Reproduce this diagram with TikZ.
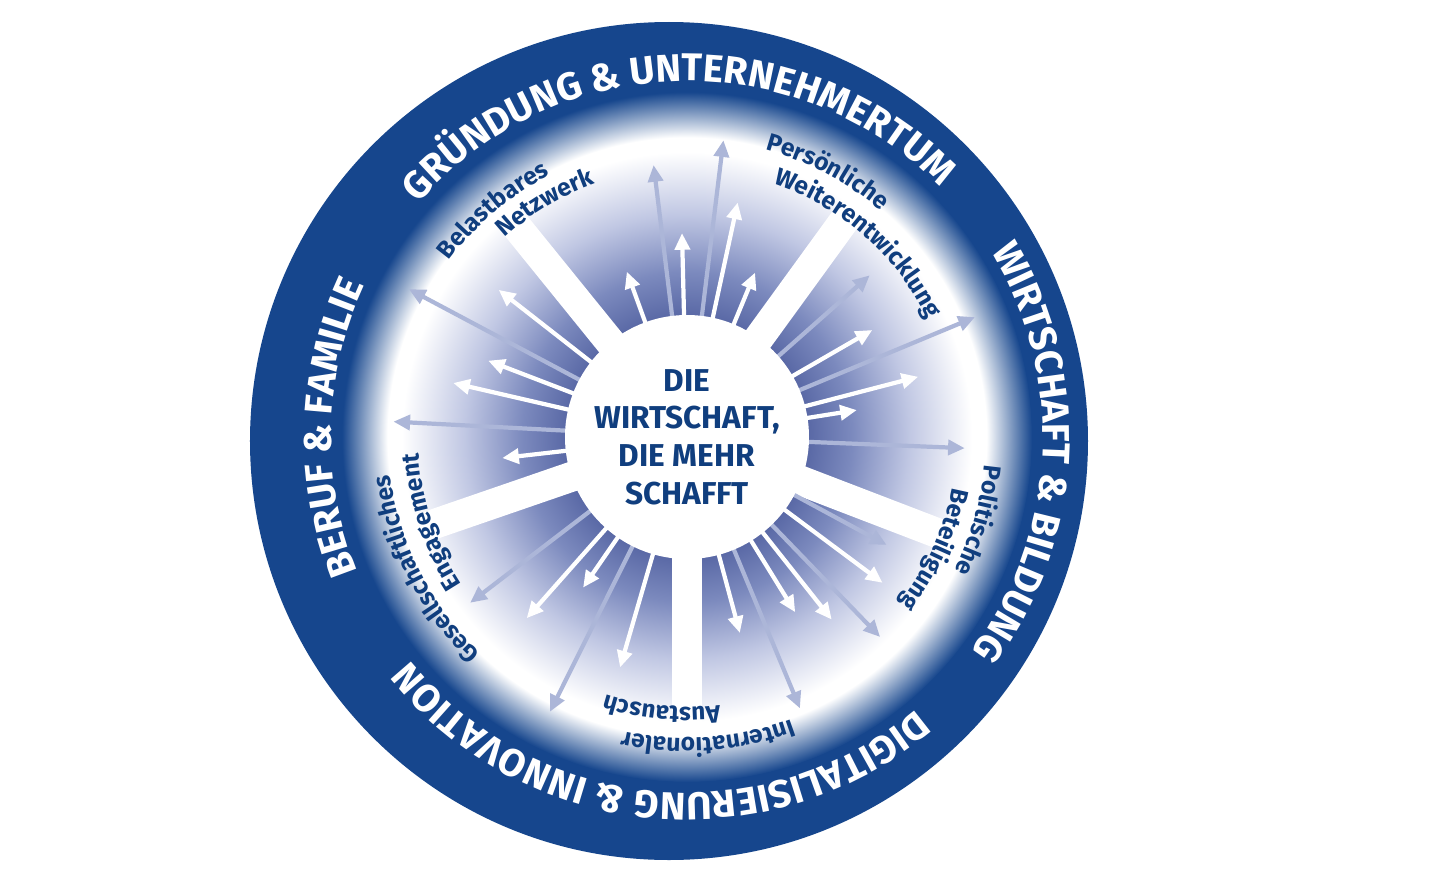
\documentclass[tikz,border=0pt]{standalone}
\usepackage{fontspec}
\setmainfont{Fira Sans}
\usepackage{tikz}
\usetikzlibrary{arrows.meta, decorations.text}
\definecolor{RingBlue}{RGB}{22,70,141}
\definecolor{HubDark}{RGB}{90,105,166}
\definecolor{HubMid}{RGB}{124,138,190}
\definecolor{HubLight}{RGB}{192,199,227}
\definecolor{RayGrey}{RGB}{172,182,216}
\definecolor{LabelNavy}{RGB}{16,62,126}
% radial fades, 25bp = edge of the shaded circle
\pgfdeclareradialshading{ringfade}{\pgfpoint{0bp}{0bp}}{color(0bp)=(white); color(21.7bp)=(white); color(25bp)=(RingBlue); color(50bp)=(RingBlue)}
\pgfdeclareradialshading{hubfade}{\pgfpoint{0bp}{0bp}}{color(0bp)=(HubDark); color(10.7bp)=(HubDark); color(14.5bp)=(HubMid); color(19.5bp)=(HubLight); color(25bp)=(white); color(50bp)=(white)}
\newcommand\ringfont{\fontsize{22}{22}\selectfont\bfseries\color{white}}
\newcommand\labelfont{\fontsize{14}{14}\selectfont\bfseries\color{LabelNavy}}

\begin{document}
\begin{tikzpicture}[x=0.02cm, y=0.02cm,
    ray/.style={line width=2.4pt, -{Triangle[length=9.5pt, width=8.5pt]}},
    whiteray/.style={ray, white},
    greyray/.style={ray, RayGrey},
    spoke/.style={white, line width=17pt},
    ringtext/.style={decorate, decoration={text along path,
                     text align=center, text={|\ringfont|#1}}},
    labeltext/.style={decorate, decoration={text along path,
                      text align=center, text={|\labelfont|#1}}},
    hubtext/.style={align=center, text=LabelNavy,
                    font=\fontsize{18}{21.5}\selectfont\bfseries}
  ]
  \useasboundingbox (-687,-443) rectangle (753,437);
  \fill[white] (-687,-443) rectangle (753,437);
  % Ring
  \fill[RingBlue] (-18,-4) circle[radius=419];
  \shade[shading=ringfade] (0,0) circle[radius=345];
  % Hub with spokes
  \shade[shading=hubfade] (0,0) circle[radius=285];
  \foreach \a in {129, 54, -21, -90, 199}
    \draw[spoke] (0,0) -- (\a:300);
  % Long rays
  \foreach \a/\r in {152/315, 177/294, 97/274, 83/299, 41.5/244, 22.6/312,
                     -2.3/278, -28.4/227, -46/278, -67.4/294, 217.4/273, 243.5/307}
    \draw[greyray] (\a:110) -- (\a:\r);
  % Short rays
  \foreach \a/\r in {142/239, 159/213, 167/240, 186.5/186, 110/176, 91.4/204,
                     77.8/240, 67.5/178, 30/214, 14.6/239, 9/172, -36.7/244,
                     -51.6/233, -58.3/206, -74.9/203, 228.5/242, 235.4/183, 253.8/240}
    \draw[whiteray] (\a:110) -- (\a:\r);
  % Centre
  \fill[white] (0,0) circle[radius=122];
  \node[hubtext] (hub) at (0,0) {DIE\\WIRTSCHAFT,\\DIE MEHR\\SCHAFFT};
  % Ring texts (centred on their arcs)
  \path[ringtext={GRÜNDUNG {\&} UNTERNEHMERTUM}] (146.75:356) arc[start angle=146.75, end angle=36.75, radius=356];
  \path[ringtext={WIRTSCHAFT {\&} BILDUNG}] (42.25:356) arc[start angle=42.25, end angle=-47.75, radius=356];
  \path[ringtext={DIGITALISIERUNG {\&} INNOVATION}] (-38.5:356) arc[start angle=-38.5, end angle=-152.5, radius=356];
  \path[ringtext={BERUF {\&} FAMILIE}] (218.5:356) arc[start angle=218.5, end angle=138.5, radius=356];
  % Sector labels
  \path[labeltext={Belastbares}] (162.5:296) arc[start angle=162.5, end angle=98.5, radius=296];
  \path[labeltext={Netzwerk}] (153.2:270) arc[start angle=153.2, end angle=89.2, radius=270];
  \path[labeltext={Persönliche}] (94.1:298) arc[start angle=94.1, end angle=30.1, radius=298];
  \path[labeltext={Weiterentwicklung}] (80.6:268) arc[start angle=80.6, end angle=16.6, radius=268];
  \path[labeltext={Politische}] (16.1:299) arc[start angle=16.1, end angle=-47.9, radius=299];
  \path[labeltext={Beteiligung}] (7.6:270) arc[start angle=7.6, end angle=-56.4, radius=270];
  \path[labeltext={Internationaler}] (-54:301) arc[start angle=-54, end angle=-118, radius=301];
  \path[labeltext={Austausch}] (-63.3:270) arc[start angle=-63.3, end angle=-127.3, radius=270];
  \path[labeltext={Gesellschaftliches}] (238.8:299) arc[start angle=238.8, end angle=174.8, radius=299];
  \path[labeltext={Engagement}] (230.3:269) arc[start angle=230.3, end angle=166.3, radius=269];
\end{tikzpicture}
\end{document}
